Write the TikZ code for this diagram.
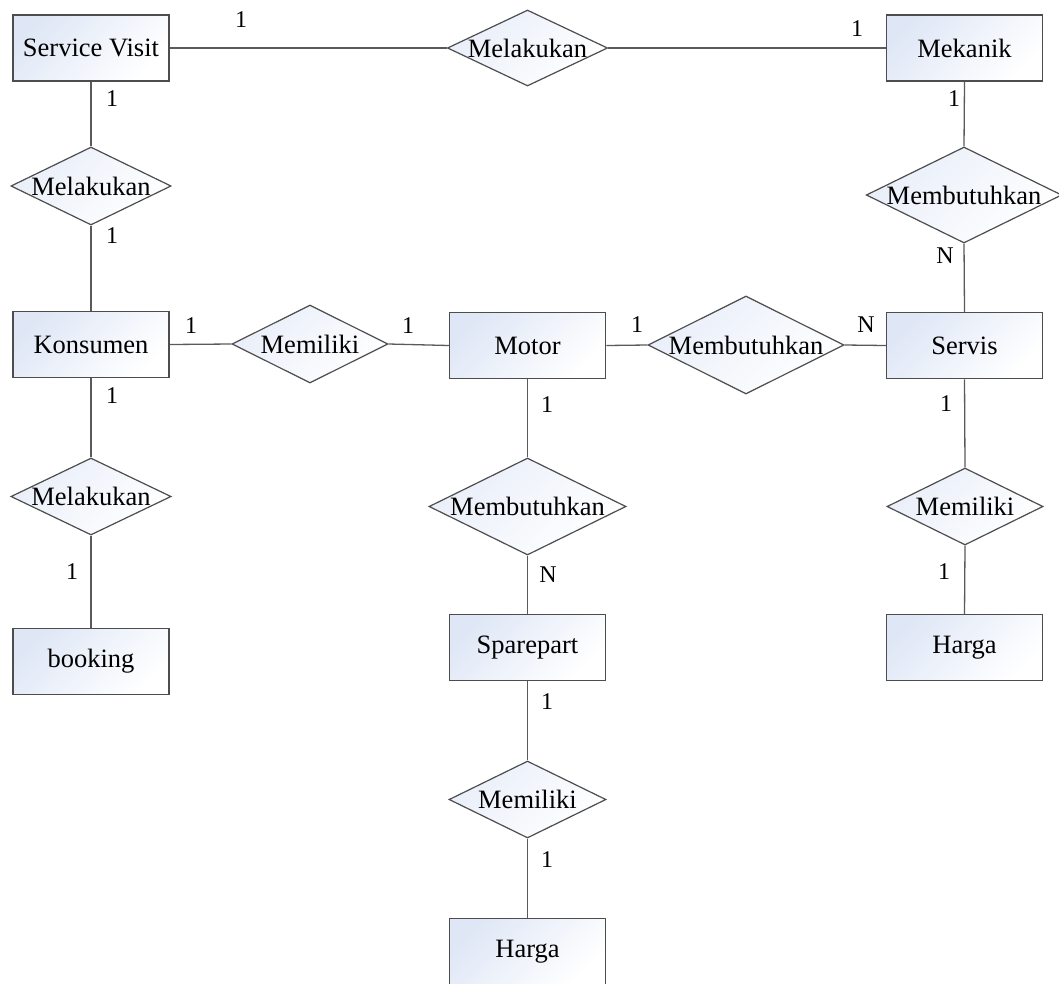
\documentclass[tikz,border=0pt]{standalone}
\usepackage{fontspec}
\setmainfont{Liberation Serif}
\usetikzlibrary{shapes.geometric}
\definecolor{boxline}{HTML}{4D4D4D}
\definecolor{edgegray}{HTML}{5A5A5A}
\definecolor{tint}{HTML}{DFE7F6}

\tikzset{
  entity/.style={rectangle, draw=boxline, line width=1.5pt,
    minimum width=156pt, minimum height=66pt, inner sep=0pt,
    top color=tint, bottom color=white, shading angle=45,
    font=\fontsize{26.5}{31}\selectfont},
  relation/.style={diamond, aspect=2.2, draw=boxline, line width=1.2pt,
    inner sep=0pt, top color=tint!70, bottom color=white, shading angle=45,
    font=\fontsize{26.5}{31}\selectfont},
  link/.style={draw=edgegray, line width=1.3pt},
  card/.style={inner sep=0pt, font=\fontsize{24}{28}\selectfont}
}

\begin{document}
\begin{tikzpicture}[x=1pt, y=-1pt]
  \useasboundingbox (0,0) rectangle (1059,983);
  \clip (0,0) rectangle (1059,983);

  % entities
  \node[entity] (sv)     at (91,48)      {Service Visit};
  \node[entity] (mek)    at (964.5,48)   {Mekanik};
  \node[entity] (kons)   at (91,344.5)   {Konsumen};
  \node[entity] (motor)  at (527.5,345.5){Motor};
  \node[entity] (servis) at (964.5,345.5){Servis};
  \node[entity] (book)   at (91,661.5)   {booking};
  \node[entity] (spare)  at (527.5,647.5){Sparepart};
  \node[entity] (hargaR) at (964.5,647.5){Harga};
  \node[entity] (hargaB) at (527.5,951.5){Harga};

  % relationships
  \node[relation, minimum width=157pt, minimum height=76pt] (rTop)   at (527.5,48)  {Melakukan};
  \node[relation, minimum width=156pt, minimum height=78pt] (rLeft)  at (91,186)    {Melakukan};
  \node[relation, minimum width=194pt, minimum height=96pt] (rMekS)  at (964,195)   {Membutuhkan};
  \node[relation, minimum width=156pt, minimum height=78pt] (rKonM)  at (310,344)   {Memiliki};
  \node[relation, minimum width=196pt, minimum height=98pt] (rMotS)  at (746,345)   {Membutuhkan};
  \node[relation, minimum width=156pt, minimum height=77pt] (rBook)  at (91,496.5)  {Melakukan};
  \node[relation, minimum width=197pt, minimum height=97pt] (rMotP)  at (527.5,506.5) {Membutuhkan};
  \node[relation, minimum width=156pt, minimum height=77pt] (rSerH)  at (965,506.5) {Memiliki};
  \node[relation, minimum width=157pt, minimum height=77pt] (rSpaH)  at (527.5,799.5) {Memiliki};

  % connectors
  \draw[link] (sv.east) -- (rTop.west);
  \draw[link] (rTop.east) -- (mek.west);
  \draw[link] (sv.south) -- (rLeft.north);
  \draw[link] (rLeft.south) -- (kons.north);
  \draw[link] (mek.south) -- (rMekS.north);
  \draw[link] (rMekS.south) -- (servis.north);
  \draw[link] (kons.east) -- (rKonM.west);
  \draw[link] (rKonM.east) -- (motor.west);
  \draw[link] (motor.east) -- (rMotS.west);
  \draw[link] (rMotS.east) -- (servis.west);
  \draw[link] (kons.south) -- (rBook.north);
  \draw[link] (rBook.south) -- (book.north);
  \draw[link] (motor.south) -- (rMotP.north);
  \draw[link] (rMotP.south) -- (spare.north);
  \draw[link] (spare.south) -- (rSpaH.north);
  \draw[link] (rSpaH.south) -- (hargaB.north);
  \draw[link] (servis.south) -- (rSerH.north);
  \draw[link] (rSerH.south) -- (hargaR.north);

  % cardinalities
  \node[card] (c1)  at (241,20)  {1};
  \node[card] (c2)  at (857,29)  {1};
  \node[card] (c3)  at (112,99)  {1};
  \node[card] (c4)  at (112,236) {1};
  \node[card] (c5)  at (954,99)  {1};
  \node[card] (c6)  at (945,256) {N};
  \node[card] (c7)  at (191,326) {1};
  \node[card] (c8)  at (408,326) {1};
  \node[card] (c9)  at (637,325) {1};
  \node[card] (c10) at (866,325) {N};
  \node[card] (c11) at (112,396) {1};
  \node[card] (c12) at (72,572)  {1};
  \node[card] (c13) at (547,405) {1};
  \node[card] (c14) at (548,575) {N};
  \node[card] (c15) at (946,404) {1};
  \node[card] (c16) at (944,572) {1};
  \node[card] (c17) at (547,702) {1};
  \node[card] (c18) at (547,860) {1};
\end{tikzpicture}
\end{document}
